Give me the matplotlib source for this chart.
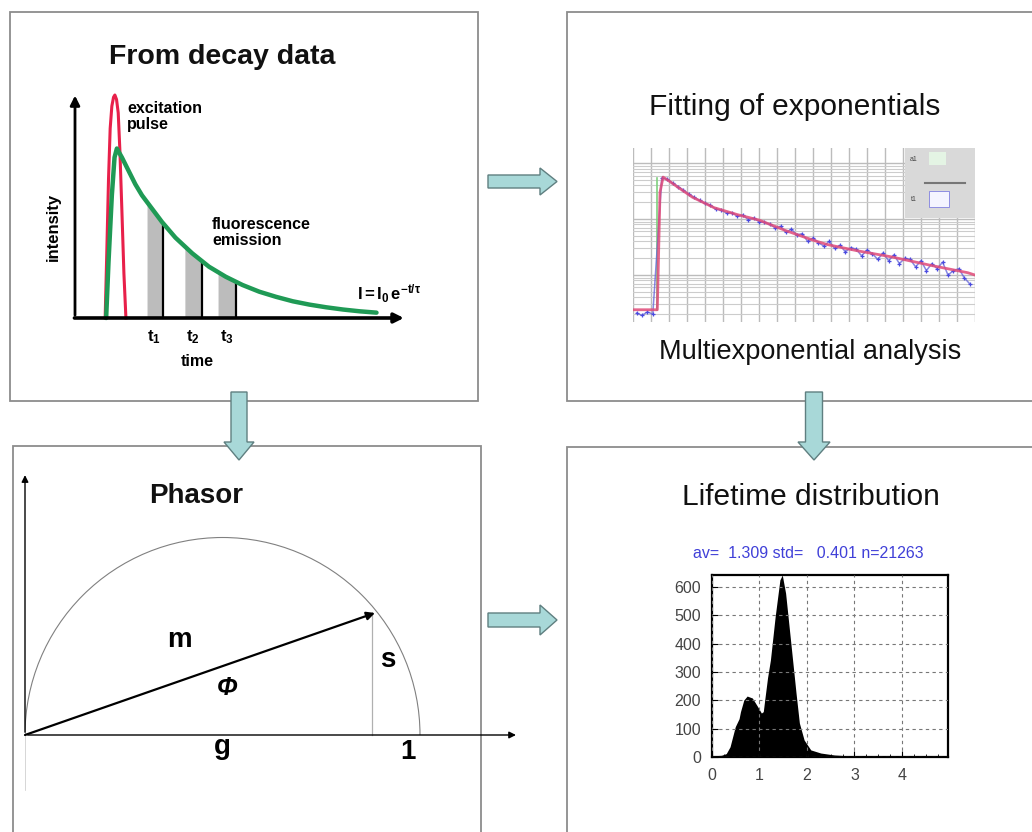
import matplotlib
matplotlib.use("Agg")
import matplotlib.pyplot as plt
from matplotlib.patches import Rectangle, FancyArrow, Arc
from matplotlib.ticker import MultipleLocator, NullFormatter

plt.rcParams['font.family'] = ['Liberation Sans', 'DejaVu Sans']
plt.rcParams['mathtext.fontset'] = 'custom'
plt.rcParams['mathtext.rm'] = 'Liberation Sans'
plt.rcParams['mathtext.bf'] = 'Liberation Sans:bold'
plt.rcParams['mathtext.it'] = 'Liberation Sans:italic'

W, H = 1032, 832

# --- decay panel data (time units, normalised intensity)
pulse_t = [0.90, 0.95, 1.00, 1.05, 1.10, 1.15, 1.19, 1.24, 1.29, 1.34, 1.40, 1.46, 1.52]
pulse_i = [0.00, 0.30, 0.62, 0.85, 0.95, 0.99, 1.00, 0.98, 0.92, 0.75, 0.48, 0.20, 0.00]
decay_t = [0.93, 1.00, 1.10, 1.18, 1.25, 1.40, 1.60, 1.80, 2.00, 2.30, 2.60, 3.00,
           3.50, 4.00, 4.50, 5.00, 5.50, 6.00, 6.50, 7.00, 7.50, 8.00, 8.50, 9.00]
decay_i = [0.00, 0.25, 0.55, 0.72, 0.76, 0.72, 0.66, 0.60, 0.55, 0.49, 0.43, 0.36,
           0.29, 0.23, 0.185, 0.148, 0.118, 0.095, 0.075, 0.060, 0.048, 0.038, 0.030, 0.024]
gate_left = [2.15, 3.28, 4.27]
gate_right = [2.63, 3.79, 4.81]
gate_top_left = [0.52, 0.32, 0.205]
gate_top_right = [0.425, 0.255, 0.16]
gate_labels = [r'$\mathbf{t_1}$', r'$\mathbf{t_2}$', r'$\mathbf{t_3}$']

# --- fitting panel data (channel, counts)
fit_ch = [0, 13.5, 15, 16.7, 20, 25, 33, 45, 58, 70, 85, 100, 108, 125, 144, 165, 186, 190]
fit_counts = [2.4, 2.4, 300, 562, 480, 370, 246, 160, 120, 96, 62, 42, 35, 27, 21, 15, 11, 10]
data_ch = [2, 5, 8, 11, 16, 19, 22, 25, 28, 31, 34, 37, 40, 43, 46, 49, 52, 55, 58, 61, 64,
           67, 70, 73, 76, 79, 82, 85, 88, 91, 94, 97, 100, 103, 106, 109, 112, 115, 118,
           121, 124, 127, 130, 133, 136, 139, 142, 145, 148, 151, 154, 157, 160, 163, 166,
           169, 172, 175, 178, 181, 184, 187]
data_counts = [2.1, 1.9, 2.2, 2.0, 540, 520, 440, 380, 330, 280, 245, 215, 190, 178, 150,
               145, 128, 130, 112, 118, 98, 104, 90, 88, 80, 70, 74, 58, 66, 52, 55, 40, 46,
               38, 33, 40, 30, 34, 26, 31, 29, 22, 28, 24, 19, 25, 18, 23, 16, 20, 19, 14,
               18, 12, 16, 13, 17, 10, 12, 13, 9, 7]
irf_channel = 13.3

# --- phasor panel data
g_val, s_val = 0.886, 0.309

# --- lifetime histogram data (ns, pixel counts)
tau_ns = [0.0, 0.1, 0.2, 0.3, 0.38, 0.49, 0.57, 0.60, 0.67, 0.74, 0.85, 0.96, 1.04, 1.08,
          1.11, 1.17, 1.23, 1.33, 1.43, 1.48, 1.55, 1.66, 1.77, 1.84, 1.94, 2.08, 2.29,
          2.58, 2.90, 3.50, 4.20, 4.97]
tau_counts = [4, 5, 6, 12, 36, 107, 135, 160, 201, 215, 208, 178, 155, 160, 201, 280, 342,
              495, 625, 642, 578, 402, 225, 120, 60, 25, 14, 7, 4, 3, 2, 2]
hist_stats = "av=  1.309 std=   0.401 n=21263"

fig = plt.figure(figsize=(W / 100, H / 100), dpi=100)


def px_rect(x0, y0, x1, y1):
    return [x0 / W, 1 - y1 / H, (x1 - x0) / W, (y1 - y0) / H]


# overlay in pixel coordinates for boxes, arrows and titles
ov = fig.add_axes([0, 0, 1, 1])
ov.set_xlim(0, W)
ov.set_ylim(H, 0)
ov.axis('off')

box_kw = dict(facecolor='white', edgecolor='#8c8c8c', linewidth=1.3, zorder=1)
ov.add_patch(Rectangle((10, 12), 468, 389, **box_kw))
ov.add_patch(Rectangle((567, 12), 520, 389, **box_kw))
ov.add_patch(Rectangle((13, 446), 468, 430, **box_kw))
ov.add_patch(Rectangle((567, 447), 520, 430, **box_kw))

arr_kw = dict(facecolor='#a8d8d8', edgecolor='#5f7f80', linewidth=1.0,
              length_includes_head=True, zorder=5)
ov.add_patch(FancyArrow(488, 181.5, 69, 0, width=13, head_width=27, head_length=17, **arr_kw))
ov.add_patch(FancyArrow(488, 620, 69, 0, width=14, head_width=30, head_length=17, **arr_kw))
ov.add_patch(FancyArrow(239, 392, 0, 68, width=16, head_width=30, head_length=18, **arr_kw))
ov.add_patch(FancyArrow(814, 392, 0, 68, width=17, head_width=32, head_length=18, **arr_kw))

ov.text(222, 57, 'From decay data', fontsize=20.5, fontweight='bold', ha='center', va='center', color='#111')
ov.text(795, 107, 'Fitting of exponentials', fontsize=21.5, ha='center', va='center', color='#111')
ov.text(810, 352, 'Multiexponential analysis', fontsize=19.5, ha='center', va='center', color='#111')
ov.text(196, 496, 'Phasor', fontsize=20, fontweight='bold', ha='center', va='center', color='#111')
ov.text(811, 497, 'Lifetime distribution', fontsize=21.5, ha='center', va='center', color='#111')
ov.text(808, 553, hist_stats, fontsize=11.5, ha='center', va='center', color='#4040d8')

# ---------------- decay panel
ax1 = fig.add_axes(px_rect(75, 95, 410, 318))
ax1.set_xlim(0, 10)
ax1.set_ylim(0, 1)
ax1.axis('off')
for l, r, tl, tr in zip(gate_left, gate_right, gate_top_left, gate_top_right):
    ax1.fill_between([l, r], [tl, tr], color='#bcbcbc', lw=0)
    ax1.vlines(r, 0, tr, color='black', lw=1.6)
ax1.plot(pulse_t, pulse_i, color='#e8204a', lw=2.2, clip_on=False)
ax1.plot(decay_t, decay_i, color='#1f9a55', lw=3.2, clip_on=False, solid_capstyle='round')
ax1.annotate('', xy=(0, 1.01), xytext=(0, 0), annotation_clip=False,
             arrowprops=dict(arrowstyle='-|>', color='black', lw=2, mutation_scale=14))
ax1.annotate('', xy=(9.9, 0), xytext=(-0.1, 0), annotation_clip=False,
             arrowprops=dict(arrowstyle='-|>', color='black', lw=2.6, mutation_scale=14))
for r, lab in zip(gate_right, gate_labels):
    ax1.text(r - 0.28, -0.085, lab, fontsize=12, ha='center', va='center')
ax1.text(3.64, -0.197, 'time', fontsize=11.5, fontweight='bold', ha='center', va='center', clip_on=False)
ax1.text(-0.66, 0.41, 'intensity', fontsize=12, fontweight='bold', rotation=90, ha='center', va='center')
ax1.text(1.55, 0.975, 'excitation\npulse', fontsize=11.5, fontweight='bold', ha='left', va='top', linespacing=1.1)
ax1.text(4.09, 0.455, 'fluorescence\nemission', fontsize=11.5, fontweight='bold', ha='left', va='top', linespacing=1.15)
ax1.text(8.42, 0.11, r'$\mathbf{I=I_0\,e^{-t/\tau}}$', fontsize=12, ha='left', va='center')

# ---------------- fitting panel
ax2 = fig.add_axes(px_rect(633, 148, 975, 322))
ax2.set_yscale('log')
ax2.set_xlim(0, 190)
ax2.set_ylim(1.45, 1860)
for sp in ax2.spines.values():
    sp.set_visible(False)
ax2.xaxis.set_major_locator(MultipleLocator(10))
ax2.tick_params(which='both', length=0, labelbottom=False, labelleft=False)
ax2.yaxis.set_minor_formatter(NullFormatter())
ax2.grid(True, which='major', color='#bcbcbc', lw=1.0)
ax2.grid(True, which='minor', axis='y', color='#cccccc', lw=0.8)
ax2.set_axisbelow(True)
ax2.axvline(irf_channel, ymin=0.07, ymax=0.83, color='#7fd07f', lw=1.2)
ax2.plot(data_ch, data_counts, color='#6060d8', lw=1.1, alpha=0.75)
ax2.plot(data_ch, data_counts, '+', color='#4a4ae0', ms=3.5, mew=0.9)
ax2.plot(fit_ch, fit_counts, color='#e04a78', lw=2.0, alpha=0.85)
ax2.add_patch(Rectangle((0.795, 0.6), 0.205, 0.4, transform=ax2.transAxes,
                        facecolor='#d9d9d9', edgecolor='none', zorder=4))
ax2.add_patch(Rectangle((0.865, 0.9), 0.05, 0.075, transform=ax2.transAxes,
                        facecolor='#e4f4e4', edgecolor='none', zorder=5))
ax2.add_patch(Rectangle((0.865, 0.66), 0.06, 0.09, transform=ax2.transAxes,
                        facecolor='#f4f4ff', edgecolor='#8080e0', lw=0.6, zorder=5))
ax2.plot([0.855, 0.97], [0.8, 0.8], transform=ax2.transAxes, color='#777', lw=1.5, zorder=5)
ax2.text(0.82, 0.935, 'a1', transform=ax2.transAxes, fontsize=5, color='#444', ha='center', va='center', zorder=6)
ax2.text(0.82, 0.705, 't1', transform=ax2.transAxes, fontsize=5, color='#444', ha='center', va='center', zorder=6)

# ---------------- phasor panel
ax3 = fig.add_axes(px_rect(25, 440, 525, 832))
ax3.set_xlim(0, 500 / 395)
ax3.set_ylim(-97 / 395, 295 / 395)
ax3.axis('off')
ax3.patch.set_alpha(0)
ax3.add_patch(Arc((0.5, 0), 1, 1, theta1=0, theta2=180, color='#808080', lw=0.8))
ax3.plot([0, 0], [0, -0.14], color='#d0d0d0', lw=1.2)
ax3.plot([g_val - 0.008, g_val - 0.008], [0, s_val - 0.005], color='#b0b0b0', lw=0.9)
ax3.annotate('', xy=(0, 0.665), xytext=(0, 0),
             arrowprops=dict(arrowstyle='-|>', color='black', lw=1.0, mutation_scale=10))
ax3.annotate('', xy=(1.25, 0), xytext=(0, 0), annotation_clip=False,
             arrowprops=dict(arrowstyle='-|>', color='black', lw=1.0, mutation_scale=10))
ax3.annotate('', xy=(g_val, s_val), xytext=(0, 0),
             arrowprops=dict(arrowstyle='-|>', color='black', lw=1.6, mutation_scale=12,
                             shrinkA=0, shrinkB=0))
ax3.text(0.392, 0.24, 'm', fontsize=20, fontweight='bold', ha='center', va='center')
ax3.text(0.919, 0.19, 's', fontsize=20, fontweight='bold', ha='center', va='center')
ax3.text(0.511, 0.119, 'Φ', fontsize=18, fontweight='bold', fontstyle='italic', ha='center', va='center')
ax3.text(0.499, -0.03, 'g', fontsize=20, fontweight='bold', ha='center', va='center')
ax3.text(0.97, -0.043, '1', fontsize=20, fontweight='bold', ha='center', va='center')

# ---------------- lifetime histogram
ax4 = fig.add_axes(px_rect(712, 575, 948, 757))
ax4.fill_between(tau_ns, tau_counts, color='black', lw=0)
ax4.set_xlim(0, 4.97)
ax4.set_ylim(0, 642)
ax4.set_xticks([0, 1, 2, 3, 4])
ax4.set_yticks([0, 100, 200, 300, 400, 500, 600])
ax4.xaxis.set_minor_locator(MultipleLocator(0.25))
ax4.grid(True, which='major', color='#777', lw=0.8, linestyle=(0, (3, 3)))
ax4.set_axisbelow(False)
for sp in ax4.spines.values():
    sp.set_linewidth(1.6)
ax4.tick_params(which='both', direction='in', colors='black', labelcolor='#444', labelsize=11.5)
ax4.tick_params(which='major', length=4, pad=8)
ax4.tick_params(which='minor', length=2.5)

fig.savefig('out.png', dpi=100)
